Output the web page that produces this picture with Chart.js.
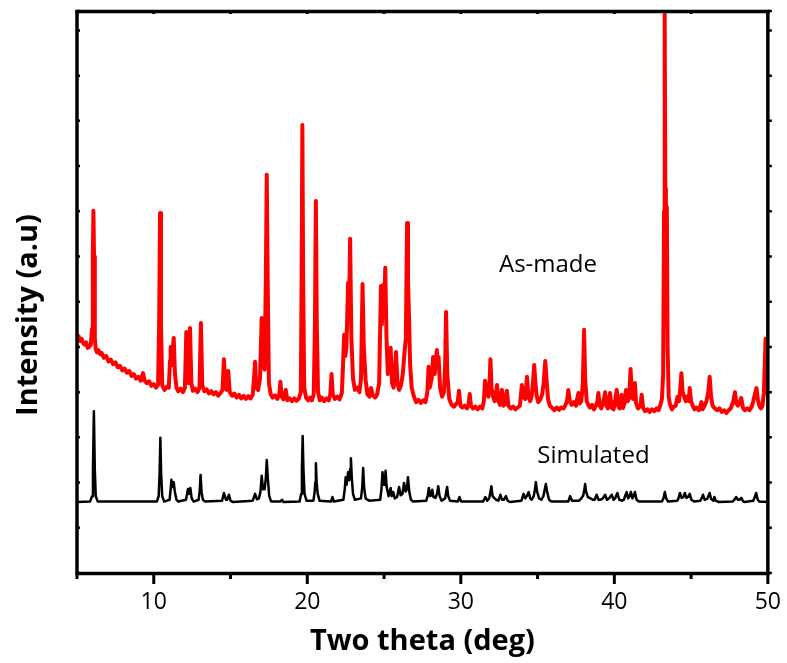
<!DOCTYPE html>
<html><head><meta charset="utf-8">
<script src="https://cdn.jsdelivr.net/npm/chart.js@4.4.1/dist/chart.umd.min.js"></script>
<style>html,body{margin:0;padding:0;background:#fff;}#wrap{width:787px;height:663px;}</style>
</head><body><div id="wrap"><canvas id="c" width="787" height="663"></canvas></div>
<script>
// ---- DATA (two theta in degrees, intensity in arbitrary units) ----
const seriesNames = ['As-made', 'Simulated'];
const xTitle = 'Two theta (deg)';
const yTitle = 'Intensity (a.u)';
const xTickLabels = [10, 20, 30, 40, 50];

const asMade = [
[5.00,5.20],[5.10,5.24],[5.20,5.13],[5.30,5.18],[5.40,5.09],[5.50,5.05],[5.60,5.10],[5.70,4.98],[5.80,5.00],[5.90,5.05],
[5.98,5.40],[6.03,7.00],[6.07,8.01],[6.11,7.00],[6.16,5.20],[6.22,4.95],[6.30,4.88],[6.40,4.93],[6.50,4.84],[6.60,4.87],
[6.75,4.76],[6.90,4.80],[7.05,4.68],[7.20,4.72],[7.35,4.62],[7.50,4.66],[7.65,4.55],[7.80,4.58],[7.95,4.48],[8.10,4.52],
[8.25,4.43],[8.40,4.47],[8.55,4.36],[8.70,4.40],[8.85,4.30],[9.00,4.34],[9.15,4.25],[9.30,4.42],[9.40,4.26],[9.55,4.20],
[9.70,4.24],[9.85,4.14],[10.00,4.18],[10.15,4.10],[10.28,4.16],[10.35,5.50],[10.41,7.96],[10.47,5.50],[10.55,4.15],[10.70,4.05],
[10.85,4.12],[10.98,4.10],[11.06,4.70],[11.10,5.00],[11.18,4.60],[11.25,5.00],[11.30,5.20],[11.38,4.40],[11.48,4.10],[11.60,4.02],
[11.75,4.08],[11.90,4.00],[12.03,4.10],[12.12,5.33],[12.20,4.30],[12.28,4.20],[12.36,5.42],[12.45,4.20],[12.55,4.03],[12.70,4.08],
[12.85,4.00],[12.98,4.10],[13.07,5.53],[13.16,4.15],[13.30,4.02],[13.45,4.06],[13.60,3.97],[13.75,4.02],[13.90,3.95],[14.05,4.00],
[14.20,3.92],[14.35,3.98],[14.48,4.05],[14.57,4.73],[14.66,4.10],[14.75,4.05],[14.85,4.47],[14.95,4.00],[15.10,3.92],[15.25,3.97],
[15.40,3.88],[15.55,3.94],[15.70,3.86],[15.85,3.92],[16.00,3.85],[16.15,3.91],[16.30,3.86],[16.45,3.95],[16.55,4.40],[16.60,4.67],
[16.68,4.10],[16.80,4.05],[16.92,4.30],[17.03,5.64],[17.12,4.60],[17.22,4.50],[17.30,6.50],[17.36,8.81],[17.42,6.50],[17.50,4.20],
[17.62,3.95],[17.75,3.88],[17.90,3.93],[18.05,3.85],[18.18,3.95],[18.25,4.23],[18.33,3.90],[18.45,3.84],[18.60,4.05],[18.70,3.82],
[18.85,3.86],[19.00,3.80],[19.15,3.86],[19.30,3.81],[19.45,3.86],[19.58,4.00],[19.63,6.50],[19.68,9.91],[19.73,6.50],[19.80,4.10],
[19.92,3.88],[20.05,3.82],[20.18,3.88],[20.30,3.82],[20.42,3.95],[20.50,5.50],[20.56,8.23],[20.62,5.50],[20.70,4.00],[20.82,3.82],
[20.95,3.88],[21.10,3.80],[21.25,3.86],[21.40,3.82],[21.50,3.95],[21.58,4.40],[21.66,3.95],[21.80,3.85],[21.95,3.90],[22.10,3.84],
[22.25,3.98],[22.33,4.60],[22.40,5.27],[22.48,4.80],[22.55,5.00],[22.66,6.42],[22.72,5.80],[22.79,7.39],[22.87,5.20],[22.98,4.30],
[23.10,4.05],[23.25,4.10],[23.40,4.00],[23.50,4.30],[23.60,6.39],[23.68,5.00],[23.80,4.27],[23.92,3.95],[24.05,3.90],[24.15,4.09],
[24.28,3.92],[24.42,3.88],[24.55,3.95],[24.68,4.20],[24.80,6.35],[24.86,5.50],[24.93,6.37],[25.00,5.80],[25.08,6.75],[25.16,5.20],
[25.25,4.40],[25.33,4.60],[25.43,4.98],[25.52,4.20],[25.62,4.10],[25.70,4.40],[25.78,4.89],[25.87,4.20],[25.98,4.05],[26.10,4.15],
[26.22,4.40],[26.32,4.82],[26.42,5.20],[26.50,7.74],[26.56,6.50],[26.62,5.75],[26.70,4.60],[26.80,4.10],[26.95,3.90],[27.10,3.78],
[27.25,3.83],[27.40,3.76],[27.55,3.82],[27.70,3.78],[27.82,4.00],[27.90,4.56],[27.98,4.10],[28.10,4.30],[28.20,4.78],[28.30,4.40],
[28.44,4.93],[28.50,4.60],[28.55,4.78],[28.65,4.10],[28.78,3.90],[28.90,4.00],[28.98,4.60],[29.04,5.77],[29.12,4.40],[29.25,3.85],
[29.40,3.72],[29.55,3.68],[29.70,3.74],[29.80,3.78],[29.88,4.03],[29.98,3.70],[30.10,3.66],[30.25,3.70],[30.40,3.64],[30.50,3.72],
[30.58,3.96],[30.66,3.70],[30.80,3.64],[30.95,3.68],[31.10,3.62],[31.25,3.68],[31.40,3.64],[31.50,3.80],[31.58,4.25],[31.68,4.00],
[31.80,3.90],[31.87,4.20],[31.93,4.73],[32.00,4.10],[32.10,3.90],[32.20,3.80],[32.28,3.95],[32.36,4.16],[32.45,3.80],[32.55,3.72],
[32.68,4.05],[32.78,3.70],[32.90,3.75],[33.00,4.03],[33.10,3.70],[33.25,3.64],[33.40,3.68],[33.55,3.62],[33.70,3.66],[33.85,3.70],
[33.98,4.16],[34.08,3.90],[34.20,3.85],[34.31,4.34],[34.40,3.90],[34.52,3.80],[34.62,3.92],[34.70,4.20],[34.78,4.60],[34.86,4.20],
[34.95,3.90],[35.05,3.78],[35.18,3.84],[35.30,3.95],[35.40,4.20],[35.50,4.69],[35.58,4.30],[35.68,3.85],[35.80,3.70],[35.95,3.65],
[36.10,3.60],[36.25,3.66],[36.40,3.61],[36.55,3.66],[36.70,3.64],[36.82,3.72],[36.92,3.80],[37.00,4.05],[37.10,3.80],[37.22,3.72],
[37.35,3.78],[37.50,3.70],[37.58,3.85],[37.66,3.98],[37.75,3.75],[37.85,3.80],[37.95,4.20],[38.03,5.38],[38.10,4.30],[38.20,3.80],
[38.30,3.72],[38.42,3.66],[38.55,3.72],[38.68,3.62],[38.80,3.70],[38.90,3.80],[38.96,3.98],[39.05,3.70],[39.15,3.64],[39.25,3.75],
[39.35,3.90],[39.40,4.00],[39.48,3.70],[39.58,3.64],[39.65,3.80],[39.72,3.98],[39.82,3.66],[39.95,3.62],[40.05,3.80],[40.16,4.05],
[40.25,3.70],[40.35,3.64],[40.47,3.94],[40.57,3.65],[40.66,3.75],[40.76,4.05],[40.86,3.80],[40.95,3.85],[41.00,4.10],[41.06,4.51],
[41.13,4.00],[41.22,3.85],[41.34,4.20],[41.42,3.75],[41.55,3.64],[41.70,3.70],[41.78,3.94],[41.88,3.65],[42.00,3.58],[42.15,3.62],
[42.30,3.56],[42.45,3.62],[42.60,3.58],[42.75,3.64],[42.88,3.60],[43.00,3.72],[43.10,3.85],[43.18,4.40],[43.24,8.00],[43.28,12.35],
[43.32,8.50],[43.36,8.10],[43.42,8.10],[43.47,5.00],[43.54,3.90],[43.62,3.74],[43.75,3.62],[43.88,3.68],[44.00,3.70],[44.12,3.90],
[44.22,3.80],[44.30,4.10],[44.37,4.42],[44.45,4.00],[44.55,3.90],[44.65,3.80],[44.75,3.90],[44.85,3.80],[44.91,4.09],[45.00,3.80],
[45.10,3.70],[45.22,3.62],[45.35,3.66],[45.50,3.60],[45.60,3.68],[45.67,3.78],[45.75,3.62],[45.88,3.70],[46.00,3.80],[46.12,4.00],
[46.21,4.34],[46.30,3.90],[46.40,3.70],[46.55,3.64],[46.70,3.60],[46.85,3.64],[47.00,3.56],[47.15,3.60],[47.30,3.54],[47.45,3.60],
[47.60,3.65],[47.75,3.80],[47.86,4.00],[47.95,3.75],[48.05,3.70],[48.15,3.76],[48.27,3.87],[48.38,3.65],[48.50,3.60],[48.65,3.64],
[48.80,3.60],[48.95,3.68],[49.05,3.80],[49.15,3.95],[49.26,4.09],[49.34,3.85],[49.44,3.70],[49.55,3.64],[49.65,3.70],[49.74,4.00],
[49.80,4.60],[49.85,5.18],[49.90,4.60],[49.95,4.20],[50.00,3.90]
];

const simulated = [
[5.00,1.57],[5.85,1.58],[5.98,1.70],[6.04,2.30],[6.10,3.58],[6.16,2.30],[6.22,1.70],[6.35,1.58],
[10.20,1.58],[10.32,1.70],[10.38,2.20],[10.43,2.99],[10.48,2.20],[10.55,1.70],[10.68,1.58],
[11.03,1.62],[11.10,1.85],[11.15,2.06],[11.22,1.90],[11.30,2.01],[11.37,1.80],[11.48,1.62],[11.60,1.58],
[12.10,1.62],[12.23,1.86],[12.30,1.75],[12.38,1.88],[12.47,1.65],[12.60,1.58],
[12.92,1.62],[12.99,1.80],[13.05,2.17],[13.11,1.80],[13.20,1.62],[13.35,1.58],
[14.45,1.60],[14.57,1.77],[14.70,1.62],[14.78,1.62],[14.90,1.73],[15.00,1.60],[15.15,1.57],
[16.45,1.60],[16.60,1.75],[16.72,1.63],[16.85,1.65],[16.95,1.80],[17.03,2.15],[17.12,1.85],[17.22,1.85],[17.30,2.10],[17.36,2.50],[17.43,2.10],[17.52,1.70],[17.65,1.58],
[18.25,1.58],[18.35,1.62],[18.45,1.57],
[19.50,1.58],[19.60,1.75],[19.65,2.30],[19.70,3.03],[19.75,2.30],[19.82,1.75],[19.95,1.60],
[20.40,1.60],[20.48,1.80],[20.52,2.00],[20.56,2.43],[20.61,2.00],[20.68,1.75],[20.80,1.60],
[21.55,1.58],[21.64,1.68],[21.73,1.58],
[22.35,1.62],[22.44,1.85],[22.50,2.12],[22.56,1.95],[22.66,2.23],[22.73,2.05],[22.79,2.30],[22.84,2.54],[22.90,2.10],[22.98,1.75],[23.10,1.62],
[23.50,1.65],[23.58,1.90],[23.64,2.32],[23.70,1.90],[23.80,1.65],[23.92,1.62],[24.05,1.60],
[24.75,1.62],[24.83,1.85],[24.90,2.23],[24.97,1.95],[25.04,1.95],[25.10,2.26],[25.17,1.90],[25.30,1.70],[25.43,1.88],[25.50,1.70],[25.60,1.79],[25.70,1.65],
[25.85,1.68],[25.98,1.90],[26.08,1.72],[26.20,1.75],[26.30,1.99],[26.40,1.80],[26.48,1.85],[26.56,2.12],[26.64,1.80],[26.75,1.62],[26.90,1.58],
[27.75,1.60],[27.85,1.72],[27.92,1.88],[28.00,1.70],[28.08,1.72],[28.14,1.84],[28.22,1.68],[28.35,1.66],[28.45,1.75],[28.53,1.92],[28.62,1.70],[28.75,1.60],
[28.98,1.65],[29.05,1.80],[29.11,1.90],[29.18,1.70],[29.30,1.60],
[29.80,1.58],[29.91,1.68],[30.02,1.58],
[31.45,1.58],[31.60,1.68],[31.72,1.60],[31.85,1.65],[31.93,1.80],[31.99,1.92],[32.07,1.70],[32.20,1.65],[32.30,1.62],[32.45,1.60],[32.58,1.73],[32.68,1.62],[32.80,1.62],[32.94,1.70],[33.05,1.60],[33.20,1.57],
[33.95,1.60],[34.09,1.75],[34.20,1.65],[34.30,1.70],[34.42,1.79],[34.52,1.65],[34.62,1.62],[34.75,1.70],[34.83,1.85],[34.89,2.01],[34.97,1.80],[35.10,1.65],
[35.25,1.62],[35.38,1.70],[35.47,1.85],[35.54,1.97],[35.62,1.80],[35.75,1.62],[35.90,1.58],
[37.00,1.58],[37.12,1.70],[37.24,1.60],
[37.70,1.60],[37.85,1.65],[37.98,1.72],[38.05,1.85],[38.10,1.97],[38.16,1.80],[38.28,1.68],[38.45,1.65],[38.60,1.62],
[38.72,1.62],[38.85,1.73],[38.97,1.62],[39.10,1.62],[39.25,1.65],[39.40,1.73],[39.52,1.62],[39.65,1.65],[39.83,1.73],[39.95,1.62],
[40.05,1.65],[40.20,1.77],[40.32,1.62],[40.50,1.60],[40.62,1.62],[40.70,1.70],[40.80,1.79],[40.90,1.65],[41.00,1.70],[41.08,1.79],[41.18,1.65],[41.26,1.70],[41.34,1.79],[41.45,1.62],[41.60,1.58],
[43.10,1.58],[43.20,1.65],[43.29,1.79],[43.38,1.65],[43.50,1.58],
[44.10,1.60],[44.18,1.65],[44.27,1.77],[44.38,1.66],[44.50,1.68],[44.59,1.77],[44.70,1.66],[44.80,1.68],[44.91,1.75],[45.02,1.62],[45.20,1.58],
[45.60,1.60],[45.70,1.66],[45.78,1.73],[45.88,1.62],[46.05,1.64],[46.12,1.70],[46.21,1.77],[46.30,1.64],[46.45,1.60],[46.52,1.68],[46.60,1.60],[46.80,1.57],
[47.70,1.58],[47.82,1.62],[47.94,1.68],[48.05,1.62],[48.15,1.62],[48.27,1.66],[48.40,1.58],[48.50,1.57],
[49.05,1.60],[49.15,1.68],[49.24,1.77],[49.34,1.62],[49.45,1.58],[50.00,1.57]
];

// ---- CHART ----
const toXY = arr => arr.map(p => ({x: p[0], y: p[1]}));

const framePlugin = {
  id: 'frameTicks',
  afterDatasetsDraw(chart) {
    const {ctx, chartArea: a, scales: {x, y}} = chart;
    ctx.save();
    ctx.strokeStyle = '#000';
    ctx.lineWidth = 3.5;
    ctx.strokeRect(a.left, a.top + 0.5, a.right - a.left, a.bottom - a.top);
    ctx.lineWidth = 3;
    ctx.beginPath();
    x.ticks.forEach(t => {
      const px = x.getPixelForValue(t.value);
      const major = xTickLabels.includes(t.value);
      ctx.moveTo(px, a.bottom); ctx.lineTo(px, a.bottom + (major ? 11 : 6));
      ctx.moveTo(px, a.top); ctx.lineTo(px, a.top + 3);
    });
    ctx.stroke();
    ctx.lineWidth = 2.5;
    ctx.beginPath();
    y.ticks.forEach(t => {
      const py = y.getPixelForValue(t.value);
      ctx.moveTo(a.left, py); ctx.lineTo(a.left + 3, py);
      ctx.moveTo(a.right, py); ctx.lineTo(a.right + 4, py);
    });
    ctx.stroke();
    // series annotations
    ctx.fillStyle = '#000';
    ctx.font = '24px "Open Sans"';
    ctx.textAlign = 'center';
    ctx.textBaseline = 'alphabetic';
    ctx.fillText(seriesNames[0], x.getPixelForValue(35.68), y.getPixelForValue(6.66));
    ctx.fillText(seriesNames[1], x.getPixelForValue(38.64), y.getPixelForValue(2.43));
    // y axis title
    ctx.font = 'bold 29px "Open Sans"';
    ctx.translate(37, (a.top + a.bottom) / 2 + 23);
    ctx.rotate(-Math.PI / 2);
    ctx.fillText(yTitle, 0, 0);
    ctx.restore();
  }
};

new Chart(document.getElementById('c'), {
  type: 'scatter',
  data: {
    datasets: [
      {label: seriesNames[1], data: toXY(simulated), showLine: true, borderColor: '#000000', borderWidth: 2.5, borderJoinStyle: 'round', borderCapStyle: 'round', pointRadius: 0, tension: 0},
      {label: seriesNames[0], data: toXY(asMade), showLine: true, borderColor: '#ff0000', borderWidth: 4, borderJoinStyle: 'round', borderCapStyle: 'round', pointRadius: 0, tension: 0}
    ]
  },
  options: {
    responsive: false,
    animation: false,
    devicePixelRatio: 1,
    layout: {padding: {left: 0, right: 17, top: 11, bottom: 0}},
    plugins: {legend: {display: false}, tooltip: {enabled: false}},
    scales: {
      x: {
        type: 'linear', position: 'bottom', min: 5, max: 50,
        afterFit(s) { s.height = 90; },
        border: {display: false},
        grid: {display: true, drawOnChartArea: false, drawTicks: true, tickLength: 10, color: 'rgba(0,0,0,0)'},
        ticks: {stepSize: 5, padding: 6, color: '#000', font: {family: 'Open Sans', size: 23},
          maxRotation: 0, autoSkip: false,
          callback: v => xTickLabels.includes(v) ? String(v) : ''},
        title: {display: true, text: xTitle, color: '#000', font: {family: 'Open Sans', size: 29, weight: 'bold'}, padding: {top: 0, bottom: 4}}
      },
      y: {
        type: 'linear', position: 'left', min: 0, max: 12.43,
        afterFit(s) { s.width = 77; },
        border: {display: false},
        grid: {display: false},
        ticks: {display: false, stepSize: 1},
        title: {display: false}
      }
    }
  },
  plugins: [framePlugin]
});
</script></body></html>
